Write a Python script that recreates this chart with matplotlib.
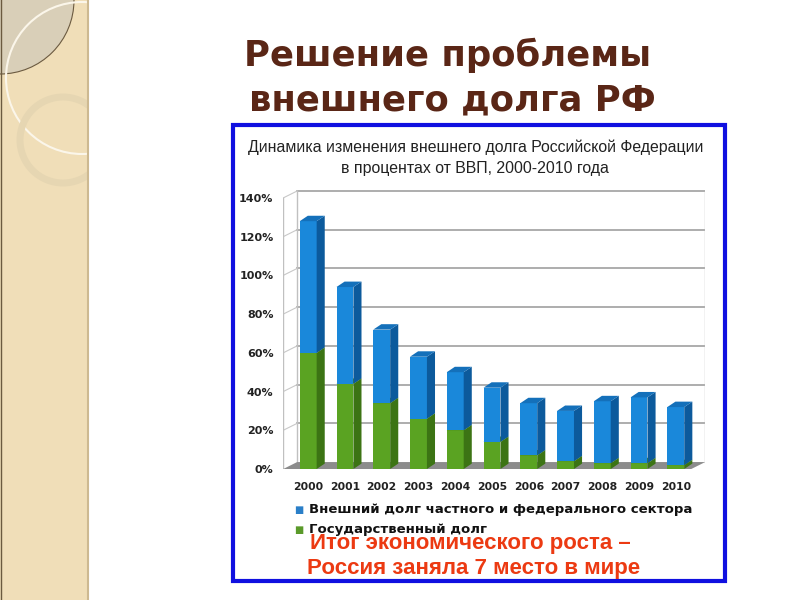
import matplotlib.pyplot as plt
import numpy as np
from matplotlib.patches import Rectangle, Circle, Polygon

plt.rcParams['font.family'] = ['DejaVu Sans']

years = ['2000', '2001', '2002', '2003', '2004', '2005', '2006', '2007', '2008', '2009', '2010']
gov_debt = [60, 44, 34, 26, 20, 14, 7, 4, 3, 3, 2]
private_debt = [68, 50, 38, 32, 30, 28, 27, 26, 32, 34, 30]
y_ticks = [0, 20, 40, 60, 80, 100, 120, 140]

fig = plt.figure(figsize=(8, 6), dpi=100)

# slide background with the beige strip on the left
bg = fig.add_axes([0, 0, 1, 1])
bg.set_xlim(0, 800)
bg.set_ylim(600, 0)
bg.axis('off')
strip = Rectangle((0, 0), 88, 600, facecolor='#f0deb8', edgecolor='none')
bg.add_patch(strip)
for c in [Circle((0, 0), 74, facecolor='#d9cfb8', edgecolor='#6b5a40', lw=0.8),
          Circle((82, 78), 76, facecolor='none', edgecolor='#fbf6ea', lw=1.5),
          Circle((63, 140), 43, facecolor='none', edgecolor='#e6d6b2', lw=5)]:
    bg.add_patch(c)
    c.set_clip_path(strip)
bg.plot([88, 88], [0, 600], color='#cdb991', lw=1.5)
bg.plot([1, 1], [0, 600], color='#6b5a40', lw=1)

# blue frame around the chart
bg.add_patch(Rectangle((233, 125), 492, 456, facecolor='white', edgecolor='#1010e0', lw=3))

fig.text(0.559, 0.908, 'Решение проблемы', ha='center', va='center',
         fontsize=25.5, fontweight='bold', color='#5a2616')
fig.text(0.566, 0.833, 'внешнего долга РФ', ha='center', va='center',
         fontsize=25.5, fontweight='bold', color='#5a2616')

fig.text(0.594, 0.755, 'Динамика изменения внешнего долга Российской Федерации',
         ha='center', va='center', fontsize=11.4, color='#222222', family='Liberation Sans')
fig.text(0.594, 0.720, 'в процентах от ВВП, 2000-2010 года',
         ha='center', va='center', fontsize=11.4, color='#222222', family='Liberation Sans')

ax = fig.add_axes([0.354, 0.2183, 0.5275, 0.4647])
ax.set_facecolor('none')
xl, xr = -0.68, 10.8
ax.set_xlim(xl, xr)
ax.set_ylim(0, 144)
for s in ax.spines.values():
    s.set_visible(False)

# walls and floor
wdx, wdy = 0.38, 3.6
for t in y_ticks[1:]:
    ax.plot([xl + wdx, xr], [t + wdy, t + wdy], color='#a0a0a0', lw=1.2, zorder=1)
    ax.plot([xl, xl + wdx], [t, t + wdy], color='#c8c8c8', lw=0.8, zorder=1)
ax.plot([xl + wdx, xl + wdx], [wdy, 140 + wdy], color='#c0c0c0', lw=1, zorder=1)
ax.plot([xl, xl], [0, 140], color='#c0c0c0', lw=1, zorder=1)
ax.plot([xr, xr], [wdy, 140 + wdy], color='#c0c0c0', lw=1, zorder=1)
ax.add_patch(Polygon([(xl, 0), (xr - wdx, 0), (xr, wdy), (xl + wdx, wdy)],
                     closed=True, facecolor='#8c8c8c', edgecolor='none', zorder=1))

x = np.arange(len(years))
w, dx, dy = 0.46, 0.22, 2.8


def bars3d(bottom, vals, front, side, top):
    ax.bar(x, vals, w, bottom=bottom, color=front, zorder=3)
    for xi, b, v in zip(x, bottom, vals):
        r = xi + w / 2
        ax.add_patch(Polygon([(r, b), (r + dx, b + dy), (r + dx, b + v + dy), (r, b + v)],
                             closed=True, facecolor=side, edgecolor='none', zorder=3))
        ax.add_patch(Polygon([(xi - w / 2, b + v), (xi - w / 2 + dx, b + v + dy),
                              (r + dx, b + v + dy), (r, b + v)],
                             closed=True, facecolor=top, edgecolor='none', zorder=3))


bars3d(np.zeros(len(years)), gov_debt, '#5aa322', '#3c7414', '#4b8c1b')
bars3d(np.array(gov_debt), private_debt, '#1a88da', '#0c5a9c', '#1470ba')

ax.set_xticks(x)
ax.set_xticklabels(years, fontsize=7.8, fontweight='bold', color='#222222')
ax.set_yticks(y_ticks)
ax.set_yticklabels([f'{t}%' for t in y_ticks], fontsize=8, fontweight='bold', color='#222222')
ax.tick_params(length=0)
ax.tick_params(axis='x', pad=9)
ax.tick_params(axis='y', pad=7)

# legend
fig.text(0.373, 0.150, '■', ha='center', va='center', fontsize=7, color='#2a7fc8')
fig.text(0.386, 0.150, 'Внешний долг частного и федерального сектора',
         ha='left', va='center', fontsize=9.5, fontweight='bold', color='#111111')
fig.text(0.373, 0.117, '■', ha='center', va='center', fontsize=7, color='#5a9a2a')
fig.text(0.386, 0.117, 'Государственный долг',
         ha='left', va='center', fontsize=9.5, fontweight='bold', color='#111111')

fig.text(0.588, 0.095, 'Итог экономического роста –', ha='center', va='center',
         fontsize=16, fontweight='bold', color='#ec3a12', family='Liberation Sans')
fig.text(0.592, 0.053, 'Россия заняла 7 место в мире', ha='center', va='center',
         fontsize=16, fontweight='bold', color='#ec3a12', family='Liberation Sans')

fig.savefig('out.png', dpi=100)
